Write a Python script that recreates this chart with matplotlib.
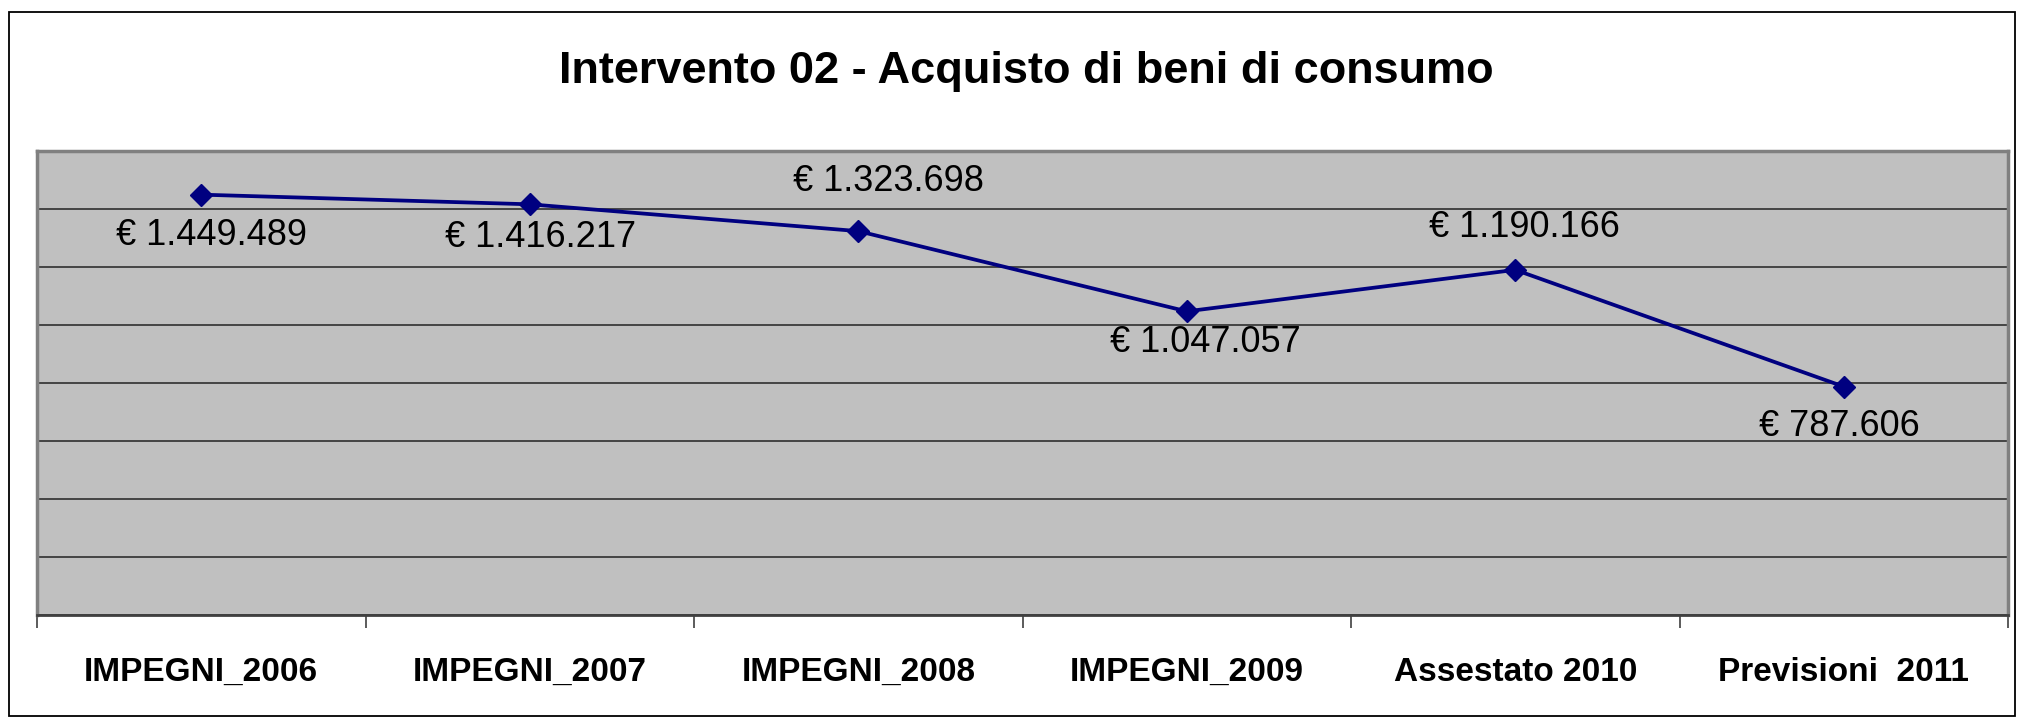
import matplotlib
matplotlib.use('Agg')
import matplotlib.pyplot as plt
from matplotlib.patches import Rectangle
import numpy as np

plt.rcParams['font.family'] = ['Liberation Sans', 'DejaVu Sans']

# ── dati ─────────────────────────
categorie = ['IMPEGNI_2006', 'IMPEGNI_2007', 'IMPEGNI_2008',
             'IMPEGNI_2009', 'Assestato 2010', 'Previsioni  2011']
valori = [1449489, 1416217, 1323698, 1047057, 1190166, 787606]
etichette = ['€ 1.449.489', '€ 1.416.217', '€ 1.323.698',
             '€ 1.047.057', '€ 1.190.166', '€ 787.606']
# spostamento etichette (pixel) rispetto al punto
offset_etichette = [(10, -41), (11, -33), (30, 50), (19, -31), (9, 42), (-4, -40)]

W, H = 2021, 721
fig = plt.figure(figsize=(W / 100, H / 100), dpi=100)
fig.patch.set_facecolor('white')

# cornice esterna
fig.patches.append(Rectangle((9 / W, 1 - 716 / H), (2015 - 9) / W, (716 - 12) / H,
                             transform=fig.transFigure, fill=False,
                             edgecolor='black', linewidth=1.3))

left, right, top, bottom = 37, 2008, 151, 615
ax = fig.add_axes([left / W, 1 - bottom / H, (right - left) / W, (bottom - top) / H])
ax.set_facecolor('#C0C0C0')

x = np.arange(len(categorie))
ax.plot(x, valori, color='#000080', linewidth=2.7, marker='D',
        markersize=11, markerfacecolor='#000080', markeredgecolor='#000080', zorder=3)

for xi, v, lab, (dx, dy) in zip(x, valori, etichette, offset_etichette):
    ax.annotate(lab, (xi, v), xytext=(dx, dy), textcoords='offset pixels',
                ha='center', va='center', fontsize=26, color='black')

ax.set_xlim(-0.5, len(categorie) - 0.5)
ax.set_ylim(0, 1600000)
ax.set_yticks(np.arange(0, 1600001, 200000))
ax.yaxis.grid(True, color='#3a3a3a', linewidth=1.3)
ax.set_axisbelow(True)
ax.tick_params(axis='y', left=False, labelleft=False)

ax.set_xticks(x)
ax.set_xticklabels(categorie, fontsize=24, fontweight='bold')
ax.tick_params(axis='x', length=0, pad=30)
ax.set_xticks(np.arange(-0.5, len(categorie)), minor=True)
ax.tick_params(axis='x', which='minor', length=9, width=1.2, color='#404040')

for s in ['top', 'right', 'left']:
    ax.spines[s].set_color('#808080')
    ax.spines[s].set_linewidth(2.5)
ax.spines['bottom'].set_color('#404040')
ax.spines['bottom'].set_linewidth(2)

fig.text(1026 / W, 1 - 72 / H, 'Intervento 02 - Acquisto di beni di consumo',
         ha='center', va='center', fontsize=32.5, fontweight='bold')

plt.savefig('out.png', dpi=100, facecolor='white')
